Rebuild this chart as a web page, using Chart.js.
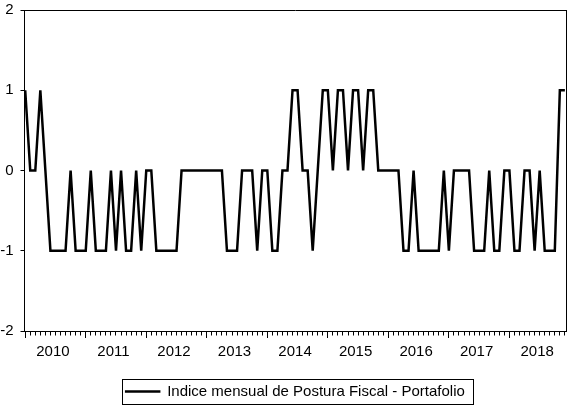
<!DOCTYPE html>
<html>
<head>
<meta charset="utf-8">
<script src="https://cdn.jsdelivr.net/npm/chart.js@4.4.1/dist/chart.umd.min.js"></script>
<style>
  html, body { margin: 0; padding: 0; background: #fff; }
  #wrap { width: 575px; height: 410px; }
</style>
</head>
<body>
<div id="wrap"><canvas id="chart" width="575" height="410"></canvas></div>
<script>
// monthly index, Jan..Dec for each year
const years = ['2010', '2011', '2012', '2013', '2014', '2015', '2016', '2017', '2018'];
const v2010 = [1, 0, 0, 1, 0, -1, -1, -1, -1, 0, -1, -1];
const v2011 = [-1, 0, -1, -1, -1, 0, -1, 0, -1, -1, 0, -1];
const v2012 = [0, 0, -1, -1, -1, -1, -1, 0, 0, 0, 0, 0];
const v2013 = [0, 0, 0, 0, -1, -1, -1, 0, 0, 0, -1, 0];
const v2014 = [0, -1, -1, 0, 0, 1, 1, 0, 0, -1, 0, 1];
const v2015 = [1, 0, 1, 1, 0, 1, 1, 0, 1, 1, 0, 0];
const v2016 = [0, 0, 0, -1, -1, 0, -1, -1, -1, -1, -1, 0];
const v2017 = [-1, 0, 0, 0, 0, -1, -1, -1, 0, -1, -1, 0];
const v2018 = [0, -1, -1, 0, 0, -1, 0, -1, -1, -1, 1, 1];
const yTicks = [-2, -1, 0, 1, 2];
const seriesName = 'Indice mensual de Postura Fiscal - Portafolio';

const values = [].concat(v2010, v2011, v2012, v2013, v2014, v2015, v2016, v2017, v2018);
const points = values.map((v, i) => ({ x: i, y: v }));

// one tick per month, plus a label slot in the middle of every year
const monthTicks = values.map((v, i) => i);
const yearLabelTicks = years.map((y, k) => k * 12 + 5.5);
const xTicks = monthTicks.concat(yearLabelTicks).sort((a, b) => a - b);

const FONT = { family: "'Liberation Sans', Arial, sans-serif", size: 15 };
const X_MIN = -0.14, X_MAX = 107.22;

// frame around the legend entry
const legendFrame = {
    id: 'legendFrame',
    afterDraw(chart) {
        const hb = chart.legend && chart.legend.legendHitBoxes && chart.legend.legendHitBoxes[0];
        if (!hb) return;
        const ctx = chart.ctx;
        const cy = hb.top + hb.height / 2;
        const left = Math.round(hb.left - 4) + 0.5;
        const right = Math.round(hb.left + hb.width + 8) + 0.5;
        ctx.save();
        ctx.strokeStyle = '#000';
        ctx.lineWidth = 1;
        ctx.strokeRect(left, Math.round(cy - 12.5) + 0.5, right - left, 25);
        ctx.restore();
    }
};

new Chart(document.getElementById('chart').getContext('2d'), {
    type: 'line',
    data: {
        datasets: [{
            label: seriesName,
            data: points,
            borderColor: '#000',
            backgroundColor: '#000',
            borderWidth: 2.5,
            pointRadius: 0,
            tension: 0,
            fill: false
        }]
    },
    options: {
        responsive: false,
        animation: false,
        layout: { padding: { left: 0, right: 0, top: 10, bottom: 1 } },
        plugins: {
            tooltip: { enabled: false },
            legend: {
                position: 'bottom',
                fullSize: false,
                labels: {
                    color: '#000',
                    font: FONT,
                    boxWidth: 34,
                    boxHeight: 1,
                    padding: 23,
                    generateLabels(chart) {
                        const items = Chart.defaults.plugins.legend.labels.generateLabels(chart);
                        items.forEach(it => { it.lineWidth = 1.5; });
                        return items;
                    }
                }
            }
        },
        scales: {
            x: {
                type: 'linear',
                position: 'bottom',
                min: X_MIN,
                max: X_MAX,
                afterBuildTicks(scale) {
                    scale.ticks = xTicks.map(v => ({ value: v }));
                },
                afterFit(scale) { scale.height = 30; },
                ticks: {
                    autoSkip: false,
                    maxRotation: 0,
                    minRotation: 0,
                    color: '#000',
                    font: FONT,
                    padding: 5,
                    callback(value) {
                        if (Number.isInteger(value)) return '';
                        return years[Math.floor(value / 12)];
                    }
                },
                grid: {
                    drawOnChartArea: false,
                    tickLength: 7,
                    tickWidth: 1,
                    tickColor: ctx => Number.isInteger(ctx.tick.value) ? '#000' : 'rgba(0,0,0,0)',
                    tickBorderDash: ctx => (ctx.tick.value % 12 === 0) ? [] : [3.5, 20]
                },
                border: { color: '#000', width: 1 }
            },
            xTop: {
                type: 'linear',
                position: 'top',
                min: X_MIN,
                max: X_MAX,
                afterFit(scale) { scale.height = 0; },
                ticks: { display: false },
                grid: { drawOnChartArea: false, drawTicks: false },
                border: { color: '#000', width: 1 }
            },
            y: {
                type: 'linear',
                position: 'left',
                min: -2,
                max: 2,
                afterBuildTicks(scale) {
                    scale.ticks = yTicks.map(v => ({ value: v }));
                },
                afterFit(scale) {
                    scale.width = 24.5;
                    scale.paddingTop = 0;
                    scale.paddingBottom = 0;
                },
                ticks: { color: '#000', font: FONT, padding: 7 },
                grid: { drawOnChartArea: false, tickLength: 4, tickColor: '#000' },
                border: { color: '#000', width: 1 }
            },
            yRight: {
                type: 'linear',
                position: 'right',
                min: -2,
                max: 2,
                afterFit(scale) { scale.width = 9; },
                ticks: { display: false },
                grid: { drawOnChartArea: false, drawTicks: false },
                border: { color: '#000', width: 1 }
            }
        }
    },
    plugins: [legendFrame]
});
</script>
</body>
</html>
